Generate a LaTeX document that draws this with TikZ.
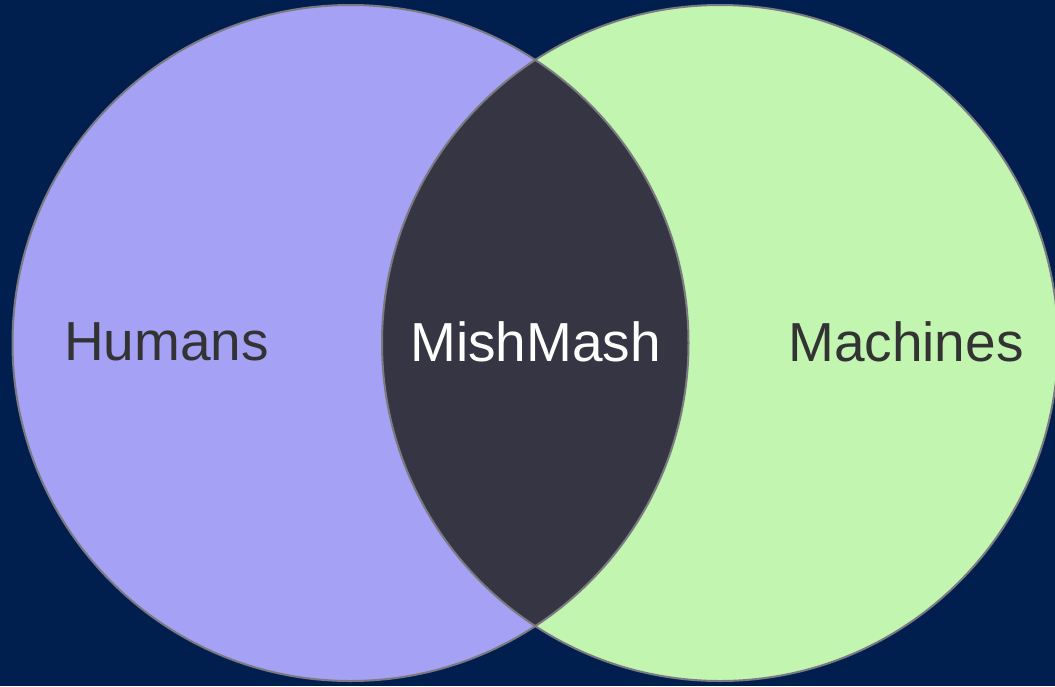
\documentclass[tikz,border=0pt]{standalone}
\usepackage{fontspec}
\setmainfont{Liberation Sans}
\definecolor{bg}{HTML}{001F4F}
\definecolor{humanfill}{HTML}{A5A1F5}
\definecolor{machinefill}{HTML}{C1F5B0}
\definecolor{lensfill}{HTML}{363544}
\definecolor{rim}{HTML}{7A7A80}
\definecolor{labeltext}{HTML}{333333}
\begin{document}
\begin{tikzpicture}[x=1pt,y=-1pt,
  label/.style={font=\fontsize{55}{66}\selectfont, inner sep=0pt, anchor=center},
  rimline/.style={draw=rim, line width=2pt}]
\fill[bg] (0,0) rectangle (1055,686);
\useasboundingbox (0,0) rectangle (1055,686);
\begin{scope}
\clip (0,0) rectangle (1055,686);
\coordinate (hc) at (350.5,343);
\coordinate (mc) at (720,343);
\fill[humanfill] (hc) circle[radius=338];
\fill[machinefill] (mc) circle[radius=338];
\begin{scope}
\clip (hc) circle[radius=338];
\fill[lensfill] (mc) circle[radius=338];
\end{scope}
\draw[rimline] (hc) circle[radius=338];
\draw[rimline] (mc) circle[radius=338];
\end{scope}
\node[label, text=labeltext] (humans) at (166.5,342) {Humans};
\node[label, text=white] (mishmash) at (535.5,342) {MishMash};
\node[label, text=labeltext] (machines) at (906,342) {Machines};
\end{tikzpicture}
\end{document}
